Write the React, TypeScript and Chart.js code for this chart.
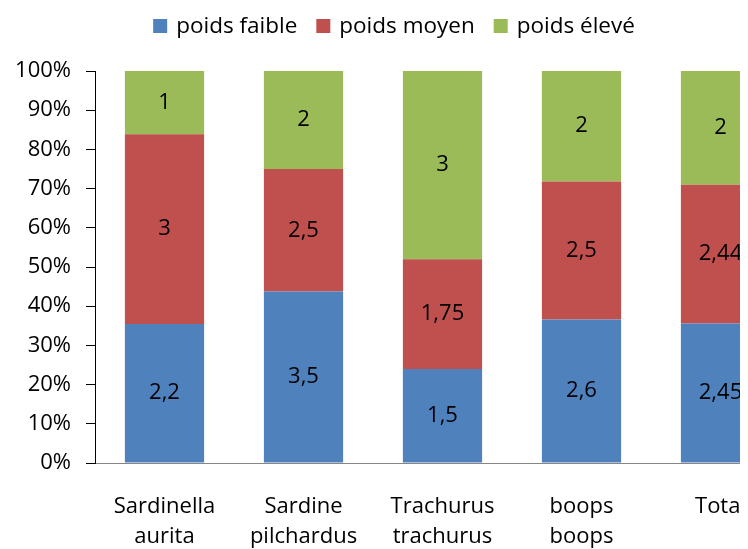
import { useEffect, useRef } from 'react';
import { Chart, registerables } from 'chart.js';

Chart.register(...registerables);

const categories: string[][] = [
  ['Sardinella', 'aurita'],
  ['Sardine', 'pilchardus'],
  ['Trachurus', 'trachurus'],
  ['boops', 'boops'],
  ['Total'],
];
const seriesNames = ['poids faible', 'poids moyen', 'poids élevé'];
const poidsFaible = [2.2, 3.5, 1.5, 2.6, 2.45];
const poidsMoyen = [3, 2.5, 1.75, 2.5, 2.44];
const poidsEleve = [1, 2, 3, 2, 2];
const seriesColors = ['#4F81BD', '#C0504D', '#9BBB59'];

const FONT = "'Open Sans', 'Noto Sans', sans-serif";
const FONT_SIZE = 22;

const rawSeries = [poidsFaible, poidsMoyen, poidsEleve];
const totals = categories.map((_, i) => rawSeries.reduce((s, arr) => s + arr[i], 0));
const pctSeries = rawSeries.map((arr) => arr.map((v, i) => (v / totals[i]) * 100));

const fmt = (v: number) => String(v).replace('.', ',');

const dataLabelPlugin = {
  id: 'dataLabels',
  afterDatasetsDraw(chart: any) {
    const ctx = chart.ctx;
    ctx.save();
    ctx.font = `${FONT_SIZE}px ${FONT}`;
    ctx.fillStyle = '#000';
    ctx.textAlign = 'center';
    ctx.textBaseline = 'middle';
    chart.data.datasets.forEach((ds: any, di: number) => {
      const meta = chart.getDatasetMeta(di);
      meta.data.forEach((bar: any, i: number) => {
        const cy = (bar.y + bar.base) / 2;
        ctx.fillText(fmt(ds.raw[i]), bar.x, cy);
      });
    });
    ctx.restore();
  },
};

const legendPlugin = {
  id: 'customLegend',
  afterDraw(chart: any) {
    const ctx = chart.ctx;
    ctx.save();
    ctx.font = `${FONT_SIZE + 0.5}px ${FONT}`;
    const box = 14;
    const gapText = 9;
    const gapItem = 19;
    const widths = seriesNames.map((n) => ctx.measureText(n).width);
    const total = widths.reduce((s, w) => s + box + gapText + w, 0) + gapItem * (seriesNames.length - 1);
    let x = 386 - total / 2;
    const cy = 18;
    ctx.textBaseline = 'middle';
    ctx.textAlign = 'left';
    seriesNames.forEach((n, i) => {
      ctx.fillStyle = seriesColors[i];
      ctx.fillRect(x, cy - box / 2, box, box);
      x += box + gapText;
      ctx.fillStyle = '#000';
      ctx.fillText(n, x, cy + 1);
      x += widths[i] + gapItem;
    });
    ctx.restore();
  },
};

export default function App() {
  const ref = useRef<HTMLCanvasElement | null>(null);
  useEffect(() => {
    if (!ref.current) return;
    const chart = new Chart(ref.current, {
      type: 'bar',
      data: {
        labels: categories as any,
        datasets: seriesNames.map((name, i) => ({
          label: name,
          data: pctSeries[i],
          raw: rawSeries[i],
          backgroundColor: seriesColors[i],
          borderWidth: 0,
          categoryPercentage: 1,
          barPercentage: 0.57,
        })) as any,
      },
      options: {
        responsive: false,
        animation: false,
        layout: { padding: { top: 63, right: 18, left: 0, bottom: 0 } },
        plugins: {
          legend: { display: false },
          tooltip: { enabled: false },
        },
        scales: {
          x: {
            stacked: true,
            grid: { display: false, drawTicks: false },
            border: { display: true, color: '#868686', width: 1 },
            ticks: {
              color: '#000',
              font: { family: FONT, size: FONT_SIZE, lineHeight: 1.4 },
              padding: 28,
              maxRotation: 0,
              autoSkip: false,
            },
            afterFit: (s: any) => {
              s.height = 86;
            },
          },
          y: {
            stacked: true,
            min: 0,
            max: 100,
            grid: { display: true, drawOnChartArea: false, drawTicks: true, tickLength: 9, color: '#000' },
            border: { display: true, color: '#000', width: 1 },
            ticks: {
              stepSize: 10,
              color: '#000',
              font: { family: FONT, size: FONT_SIZE },
              padding: 15,
              callback: (v: any) => `${v}%`,
            },
            afterFit: (s: any) => {
              s.width = 87;
            },
          },
        },
      },
      plugins: [dataLabelPlugin, legendPlugin],
    });
    return () => chart.destroy();
  }, []);
  return (
    <div style={{ width: 740, height: 541, overflow: 'hidden', background: '#fff' }}>
      <canvas ref={ref} width={800} height={541} style={{ display: 'block' }} />
    </div>
  );
}
